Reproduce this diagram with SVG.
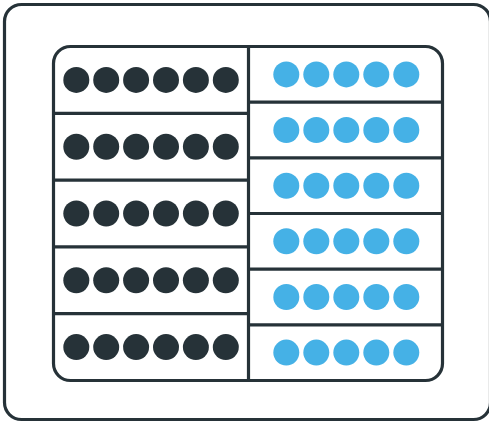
<svg xmlns="http://www.w3.org/2000/svg" width="489" height="423" viewBox="0 0 489 423">
<style>
.frame{fill:none;stroke:#263238;stroke-width:3.2}
.line{stroke:#263238;stroke-width:3.2}
.d{fill:#263238}
.b{fill:#45B1E6}
</style>
<defs>
<g id="row6">
<circle class="d" cx="76.3" cy="0" r="13"/><circle class="d" cx="106.2" cy="0" r="13"/><circle class="d" cx="136.1" cy="0" r="13"/><circle class="d" cx="166" cy="0" r="13"/><circle class="d" cx="195.9" cy="0" r="13"/><circle class="d" cx="225.8" cy="0" r="13"/>
</g>
<g id="row5">
<circle class="b" cx="286.3" cy="0" r="13"/><circle class="b" cx="316.3" cy="0" r="13"/><circle class="b" cx="346.3" cy="0" r="13"/><circle class="b" cx="376.3" cy="0" r="13"/><circle class="b" cx="406.3" cy="0" r="13"/>
</g>
</defs>
<rect id="outer" class="frame" x="4.5" y="4.5" width="486" height="415" rx="17"/>
<g id="tray">
<rect class="frame" x="53.5" y="46.5" width="389" height="334" rx="17"/>
</g>
<g id="dividers">
<line class="line" x1="248.5" y1="46.5" x2="248.5" y2="380.5"/>
<line class="line" x1="53.5" y1="113.3" x2="248.5" y2="113.3"/>
<line class="line" x1="53.5" y1="180.1" x2="248.5" y2="180.1"/>
<line class="line" x1="53.5" y1="246.9" x2="248.5" y2="246.9"/>
<line class="line" x1="53.5" y1="313.7" x2="248.5" y2="313.7"/>
<line class="line" x1="248.5" y1="102.2" x2="442.5" y2="102.2"/>
<line class="line" x1="248.5" y1="157.8" x2="442.5" y2="157.8"/>
<line class="line" x1="248.5" y1="213.5" x2="442.5" y2="213.5"/>
<line class="line" x1="248.5" y1="269.2" x2="442.5" y2="269.2"/>
<line class="line" x1="248.5" y1="324.8" x2="442.5" y2="324.8"/>
</g>
<g id="left-rows">
<use href="#row6" y="79.9"/>
<use href="#row6" y="146.7"/>
<use href="#row6" y="213.5"/>
<use href="#row6" y="280.3"/>
<use href="#row6" y="347.1"/>
</g>
<g id="right-rows">
<use href="#row5" y="74.4"/>
<use href="#row5" y="130"/>
<use href="#row5" y="185.7"/>
<use href="#row5" y="241.3"/>
<use href="#row5" y="297"/>
<use href="#row5" y="352.6"/>
</g>
</svg>
